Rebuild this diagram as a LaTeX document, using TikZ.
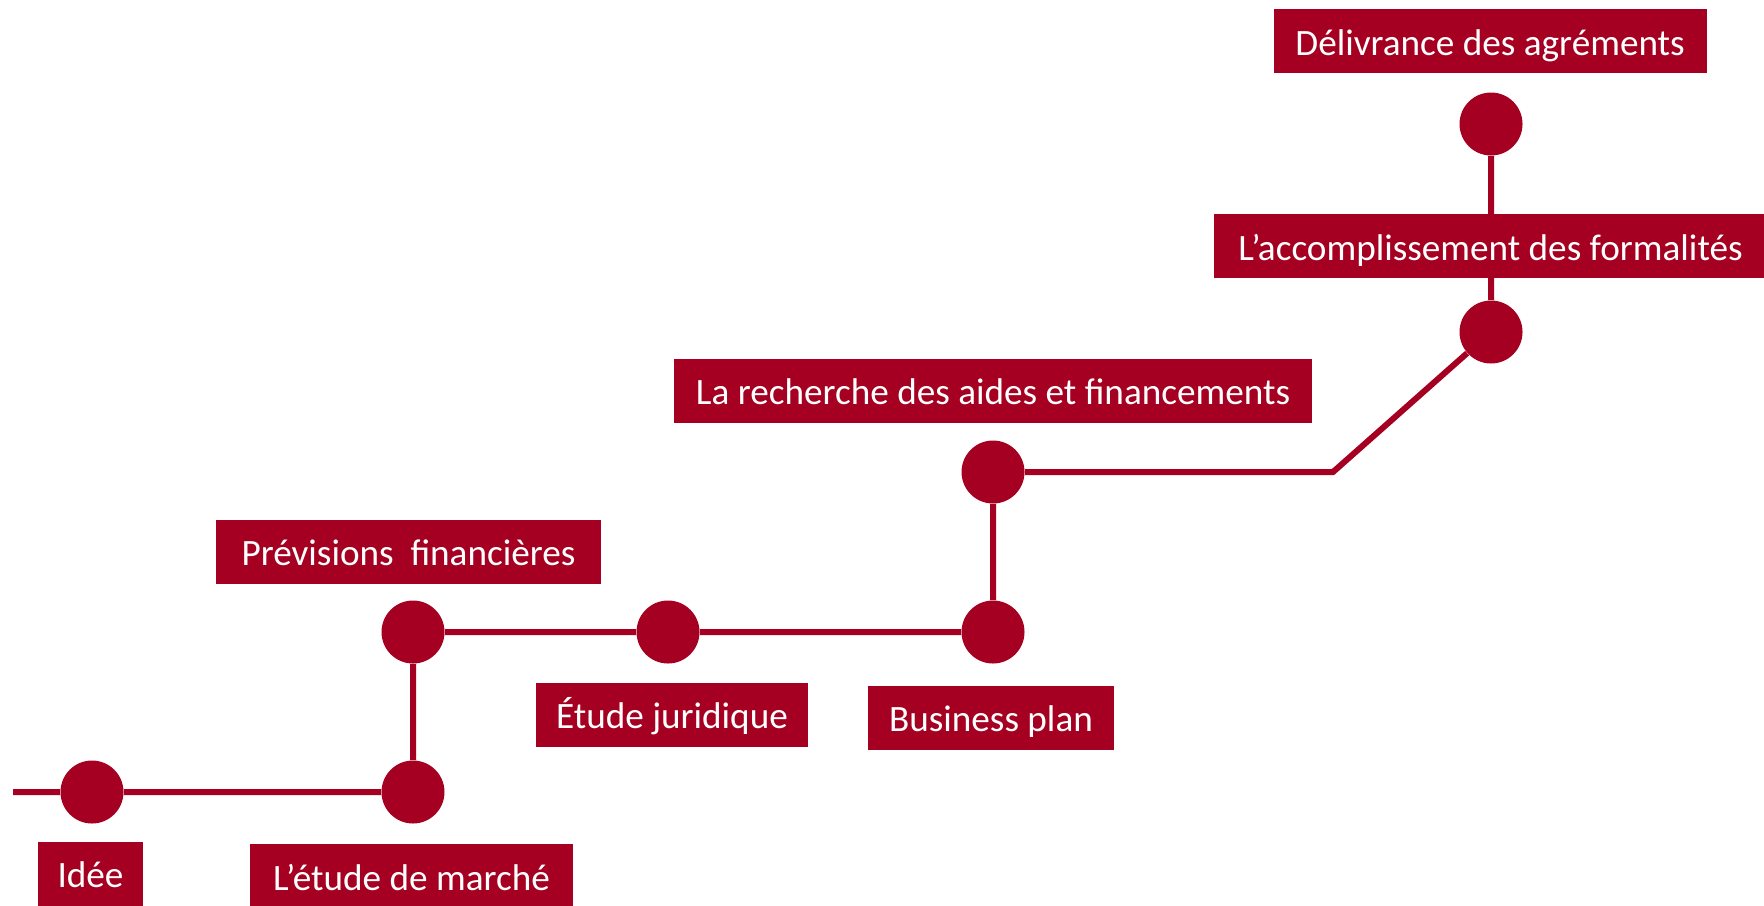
\documentclass[tikz,border=0pt]{standalone}
\usepackage{fontspec}
\setmainfont{Carlito}
\usepackage{tikz}
\definecolor{bordeaux}{HTML}{A50021}

\begin{document}
\begin{tikzpicture}[x=0.5pt, y=-0.5pt,
    dot/.style={circle, fill=bordeaux, minimum size=31.5pt, inner sep=0pt},
    etiquette/.style={fill=bordeaux, text=white, minimum height=32pt, inner sep=0pt,
      text height=15pt, text depth=1pt, font=\fontsize{18.6}{22}\selectfont}]
  \useasboundingbox (0,0) rectangle (1764,905);
  % jalons
  \node[dot] (idee) at (92,792) {};
  \node[dot] (marche) at (413,792) {};
  \node[dot] (previsions) at (413,632) {};
  \node[dot] (juridique) at (668,632) {};
  \node[dot] (business) at (993,632) {};
  \node[dot] (recherche) at (993,472) {};
  \node[dot] (formalites) at (1491,332) {};
  \node[dot] (delivrance) at (1491,124) {};
  \coordinate (depart) at (13,792);
  \coordinate (coude) at (1333,472);
  \draw[bordeaux, line width=3pt] (depart) -- (idee) -- (marche) -- (previsions)
    -- (juridique) -- (business) -- (recherche) -- (coude) -- (formalites) -- (delivrance);
  % etiquettes
  \node[etiquette, minimum width=52.5pt] (ideebox) at (90.5,873.5) {Idée};
  \node[etiquette, minimum width=161.5pt] (marchebox) at (411.5,876) {L’étude de marché};
  \node[etiquette, minimum width=192.5pt] (previsionsbox) at (408.5,551.5) {Prévisions\ \ financières};
  \node[etiquette, minimum width=136pt] (juridiquebox) at (672,714.5) {Étude juridique};
  \node[etiquette, minimum width=123pt] (businessbox) at (991,717.5) {Business plan};
  \node[etiquette, minimum width=319pt] (recherchebox) at (993,390.5) {La recherche des aides et financements};
  \node[etiquette, minimum width=277pt] (formalitesbox) at (1490.5,246) {L’accomplissement des formalités};
  \node[etiquette, minimum width=216.5pt] (delivrancebox) at (1490,41) {Délivrance des agréments};
\end{tikzpicture}
\end{document}
